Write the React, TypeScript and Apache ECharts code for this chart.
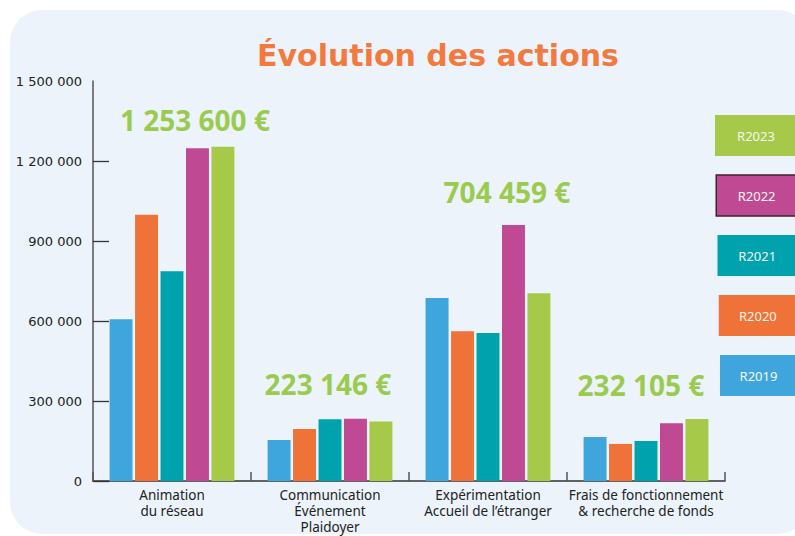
import React, { useEffect, useRef } from "react";
import * as echarts from "echarts";

// Budget lines (x axis)
const categories = [
  "Animation\ndu réseau",
  "Communication\nÉvénement\nPlaidoyer",
  "Expérimentation\nAccueil de l’étranger",
  "Frais de fonctionnement\n& recherche de fonds",
];

// Yearly amounts per budget line (€)
const seriesNames = ["R2019", "R2020", "R2021", "R2022", "R2023"];
const r2019 = [607000, 154000, 686000, 165000];
const r2020 = [998000, 195000, 562000, 139000];
const r2021 = [787000, 232000, 555000, 150000];
const r2022 = [1248000, 233000, 960000, 217000];
const r2023 = [1253600, 223146, 704459, 232105];

// Value axis
const yMax = 1500000;
const yStep = 300000;

const COLORS = ["#3fa6dd", "#ef7239", "#00a2ae", "#bf4993", "#a7c94a"];
const TOTAL_COLOR = "#9acb4f";
const FONT = "Noto Sans";

// Placement of the 2023 totals relative to the top of their bar
const TOTAL_LABEL_OFFSETS = [
  [-28, -13],
  [-53, -23],
  [-32, -87],
  [-56, -20],
];

const GRID = { left: 93, right: 70, top: 81, bottom: 55 };

const groupThousands = (v: number) =>
  String(Math.round(v)).replace(/\B(?=(\d{3})+(?!\d))/g, " ");

export default function App() {
  const ref = useRef<HTMLDivElement>(null);

  useEffect(() => {
    if (!ref.current) return;
    const chart = echarts.init(ref.current, null, { renderer: "svg" });

    const values = [r2019, r2020, r2021, r2022, r2023];

    const series: any[] = values.map((vals, i) => {
      const isLast = i === values.length - 1;
      return {
        name: seriesNames[i],
        type: "bar",
        xAxisIndex: 0,
        yAxisIndex: 0,
        barGap: "11%",
        barCategoryGap: "21%",
        itemStyle: { color: COLORS[i] },
        data: vals.map((v, j) =>
          isLast
            ? {
                value: v,
                label: {
                  show: true,
                  position: "top",
                  distance: 0,
                  offset: TOTAL_LABEL_OFFSETS[j],
                },
              }
            : v
        ),
        label: isLast
          ? {
              show: true,
              formatter: (p: any) => groupThousands(p.value) + " €",
              color: TOTAL_COLOR,
              fontFamily: FONT,
              fontWeight: "bold",
              fontSize: 28,
              lineHeight: 28,
            }
          : { show: false },
      };
    });

    // Legend boxes, stacked from the latest year downwards
    const legendItems: any[] = [];
    const order = [...seriesNames.keys()].reverse();
    order.forEach((si, k) => {
      const x = 715 + k * 1.25;
      const y = 115 + k * 60;
      legendItems.push({
        type: "rect",
        shape: { x, y, width: 800 - x, height: 41 },
        style: {
          fill: COLORS[si],
          stroke: seriesNames[si] === "R2022" ? "#3b2233" : null,
          lineWidth: seriesNames[si] === "R2022" ? 1.5 : 0,
        },
        z: 10,
      });
      legendItems.push({
        type: "text",
        x: (x + 797) / 2,
        y: y + 21,
        style: {
          text: seriesNames[si],
          fill: "#f4f8ef",
          font: `13px "${FONT}"`,
          textAlign: "center",
          textVerticalAlign: "middle",
        },
        z: 11,
      });
    });

    chart.setOption({
      animation: false,
      textStyle: { fontFamily: FONT },
      title: {
        text: "Évolution des actions",
        left: 433,
        top: 35,
        textAlign: "center",
        textStyle: {
          color: "#f37a3e",
          fontFamily: "DejaVu Sans",
          fontWeight: "bold",
          fontSize: 30,
        },
      },
      graphic: [
        {
          type: "rect",
          shape: { x: 10, y: 10, width: 800, height: 524, r: 32 },
          style: { fill: "#ecf3fa" },
          z: -10,
          silent: true,
        },
        ...legendItems,
      ],
      grid: [
        { ...GRID },
        // Second grid only carries the inner ticks from 0 to 1 200 000
        { left: GRID.left, right: GRID.right, top: GRID.top + 80, bottom: GRID.bottom },
      ],
      xAxis: [
        {
          type: "category",
          gridIndex: 0,
          data: categories,
          boundaryGap: true,
          axisLine: { lineStyle: { color: "#333", width: 1.5 } },
          axisTick: {
            show: true,
            inside: true,
            length: 9,
            lineStyle: { color: "#555", width: 1.5 },
          },
          axisLabel: {
            color: "#222",
            fontSize: 13.5,
            lineHeight: 16,
            margin: 6,
            interval: 0,
            fontFamily: FONT,
          },
        },
        { type: "category", gridIndex: 1, data: categories, show: false },
      ],
      yAxis: [
        {
          type: "value",
          gridIndex: 0,
          min: 0,
          max: yMax,
          interval: yStep,
          axisLine: { show: true, lineStyle: { color: "#555", width: 1.5 } },
          axisTick: { show: false },
          splitLine: { show: false },
          axisLabel: {
            color: "#222",
            fontSize: 13,
            margin: 11,
            padding: [12, 0, 0, 0],
            fontFamily: "DejaVu Sans",
            formatter: (v: number) => groupThousands(v),
          },
        },
        {
          type: "value",
          gridIndex: 1,
          min: 0,
          max: yMax - yStep,
          interval: yStep,
          axisLine: { show: false },
          axisLabel: { show: false },
          splitLine: { show: false },
          axisTick: {
            show: true,
            inside: true,
            length: 16,
            lineStyle: { color: "#333", width: 1.3 },
          },
        },
      ],
      series,
    });

    return () => chart.dispose();
  }, []);

  return (
    <div
      ref={ref}
      style={{
        position: "fixed",
        left: 0,
        top: 0,
        width: 795,
        height: 536,
        background: "#ffffff",
      }}
    />
  );
}
